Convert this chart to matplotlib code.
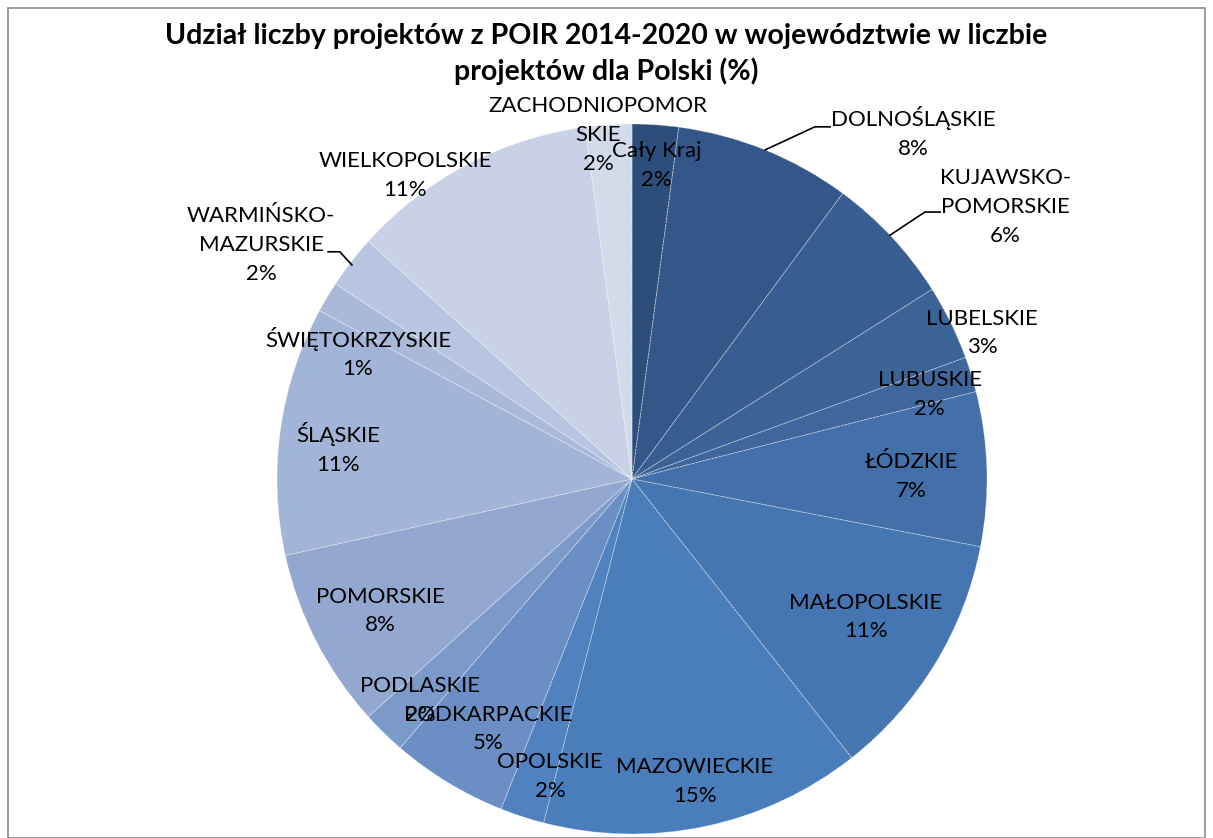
import matplotlib.pyplot as plt
from matplotlib.patches import Rectangle

plt.rcParams['font.family'] = ['Lato', 'DejaVu Sans']

regions = ["Cały Kraj", "DOLNOŚLĄSKIE", "KUJAWSKO-\nPOMORSKIE", "LUBELSKIE", "LUBUSKIE",
           "ŁÓDZKIE", "MAŁOPOLSKIE", "MAZOWIECKIE", "OPOLSKIE", "PODKARPACKIE",
           "PODLASKIE", "POMORSKIE", "ŚLĄSKIE", "ŚWIĘTOKRZYSKIE", "WARMIŃSKO-\nMAZURSKIE",
           "WIELKOPOLSKIE", "ZACHODNIOPOMOR\nSKIE"]
shares = [2.1, 8.0, 5.9, 3.4, 1.6, 7.0, 11.3, 14.6, 2.0, 5.3, 2.0, 8.2, 11.3, 1.4, 2.4, 11.2, 2.1]

colors = ["#2d4e7a", "#34578a", "#385d90", "#3c6396", "#3f679c", "#4370a8", "#4676b1",
          "#4a7ebb", "#4f82bf", "#6b8fc4", "#7b9aca", "#92a8d0", "#a2b4d7", "#aab9da",
          "#b8c5e0", "#c8d1e5", "#d3dbeb"]

# label placement (data coords, pie radius = 1)
label_xy = [(0.070, 0.882), (0.792, 0.975), (1.051, 0.766), (0.986, 0.411), (0.839, 0.237),
            (0.786, 0.006), (0.659, -0.389), (0.177, -0.851), (-0.231, -0.839), (-0.406, -0.704),
            (-0.597, -0.623), (-0.710, -0.372), (-0.828, 0.085), (-0.772, 0.355), (-1.045, 0.659),
            (-0.639, 0.856), (-0.096, 0.969)]
leaders = {1: [(0.375, 0.927), (0.515, 0.992), (0.558, 0.992)],
           2: [(0.727, 0.687), (0.825, 0.752), (0.868, 0.752)],
           14: [(-0.789, 0.603), (-0.823, 0.640), (-0.856, 0.640)]}

W, H = 1213, 838
fig = plt.figure(figsize=(W / 100, H / 100), dpi=100)
fig.patches.append(Rectangle((8 / W, 0), 1197 / W, 830 / H, transform=fig.transFigure,
                             fill=False, edgecolor='#8c8c8c', linewidth=1.2))

cx, cy, r = 632, 479, 355
ax = fig.add_axes([(cx - r) / W, (H - cy - r) / H, 2 * r / W, 2 * r / H])
ax.pie(shares, colors=colors, startangle=90, counterclock=False, radius=1,
       wedgeprops=dict(edgecolor=(1, 1, 1, 0.45), linewidth=0.6, linestyle=(0, (3, 1))))
ax.set_xlim(-1, 1)
ax.set_ylim(-1, 1)
ax.set_aspect('equal')
ax.axis('off')

total = sum(shares)
for i, (name, v) in enumerate(zip(regions, shares)):
    x, y = label_xy[i]
    ax.text(x, y, f"{name}\n{round(v / total * 100)}%", ha='center', va='center',
            fontsize=16, linespacing=1.55, clip_on=False)
    if i in leaders:
        xs, ys = zip(*leaders[i])
        ax.plot(xs, ys, color='black', linewidth=1.2, clip_on=False)

fig.text(0.5, 1 - 54 / H,
         "Udział liczby projektów z POIR 2014-2020 w województwie w liczbie\nprojektów dla Polski (%)",
         ha='center', va='center', fontsize=20.5, fontweight='bold', linespacing=1.35)

fig.savefig("out.png", dpi=100)
